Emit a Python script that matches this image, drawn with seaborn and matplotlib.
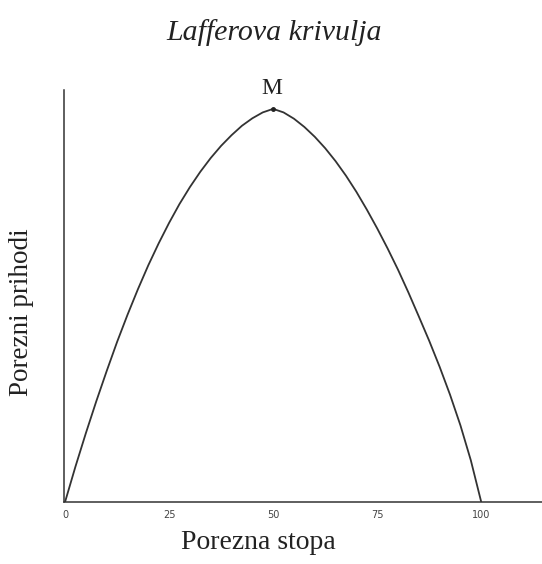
import matplotlib
matplotlib.use("Agg")
import matplotlib.pyplot as plt
import seaborn as sns
import pandas as pd

# Data (tax rate %, tax revenue as % of maximum)
tax_rate = [0, 2.5, 5, 7.5, 10, 12.5, 15, 17.5, 20, 22.5, 25, 27.5, 30, 32.5, 35, 37.5,
            40, 42.5, 45, 47.5, 50, 52.5, 55, 57.5, 60, 62.5, 65, 67.5, 70, 72.5, 75,
            77.5, 80, 82.5, 85, 87.5, 90, 92.5, 95, 97.5, 100]
revenue = [0, 9.0, 17.5, 25.6, 33.3, 40.7, 47.6, 54.1, 60.2, 65.8, 71.0, 75.8, 80.1, 84.0,
           87.5, 90.6, 93.3, 95.7, 97.6, 99.1, 100, 99.1, 97.5, 95.4, 92.9, 90.0, 86.7,
           83.0, 78.9, 74.4, 69.6, 64.5, 59.1, 53.3, 47.2, 41.0, 34.4, 27.3, 19.5, 10.6, 0]
x_ticks = [0, 25, 50, 75, 100]
x_tick_labels = ["0", "25", "50", "75", "100"]
title = "Lafferova krivulja"
x_label = "Porezna stopa"
y_label = "Porezni prihodi"
peak_label = "M"

sns.set_style("white")
plt.rcParams["font.family"] = ["Liberation Serif", "DejaVu Serif"]

df = pd.DataFrame({"rate": tax_rate, "revenue": revenue})

fig = plt.figure(figsize=(5.42, 5.64), dpi=100)
ax = fig.add_axes([64 / 542, 62 / 564, 478 / 542, 412 / 564])

sns.lineplot(data=df, x="rate", y="revenue", ax=ax, color="#333333", linewidth=1.3)
pk = df.loc[df["revenue"].idxmax()]
ax.plot([pk["rate"]], [pk["revenue"]], marker="o", markersize=2.5, color="#222222")

ax.set_xlim(-0.25, 114.6)
ax.set_ylim(0, 104.8)
ax.set_xticks(x_ticks)
ax.set_xticklabels(x_tick_labels, fontsize=7, family="DejaVu Sans", color="#444444")
ax.set_yticks([])
ax.tick_params(axis="x", direction="inout", length=6, width=0.9, color="#333333", pad=3)

for side in ["top", "right"]:
    ax.spines[side].set_visible(False)
for side in ["left", "bottom"]:
    ax.spines[side].set_color("#333333")
    ax.spines[side].set_linewidth(1.1)

ax.set_xlabel("")
ax.set_ylabel("")
fig.text(272 / 542, 1 - 94 / 564, peak_label, ha="center", va="baseline",
         fontsize=17, color="#222222")
fig.text(258 / 542, 1 - 549 / 564, x_label, ha="center", va="baseline", fontsize=20, color="#222222")
fig.text(22 / 542, 1 - 312 / 564, y_label, ha="center", va="center", rotation=90,
         fontsize=19.5, color="#222222")
fig.text(274 / 542, 1 - 40 / 564, title, ha="center", va="baseline", fontsize=21.5,
         style="italic", color="#222222")

fig.savefig("out.png", dpi=100, facecolor="white")
